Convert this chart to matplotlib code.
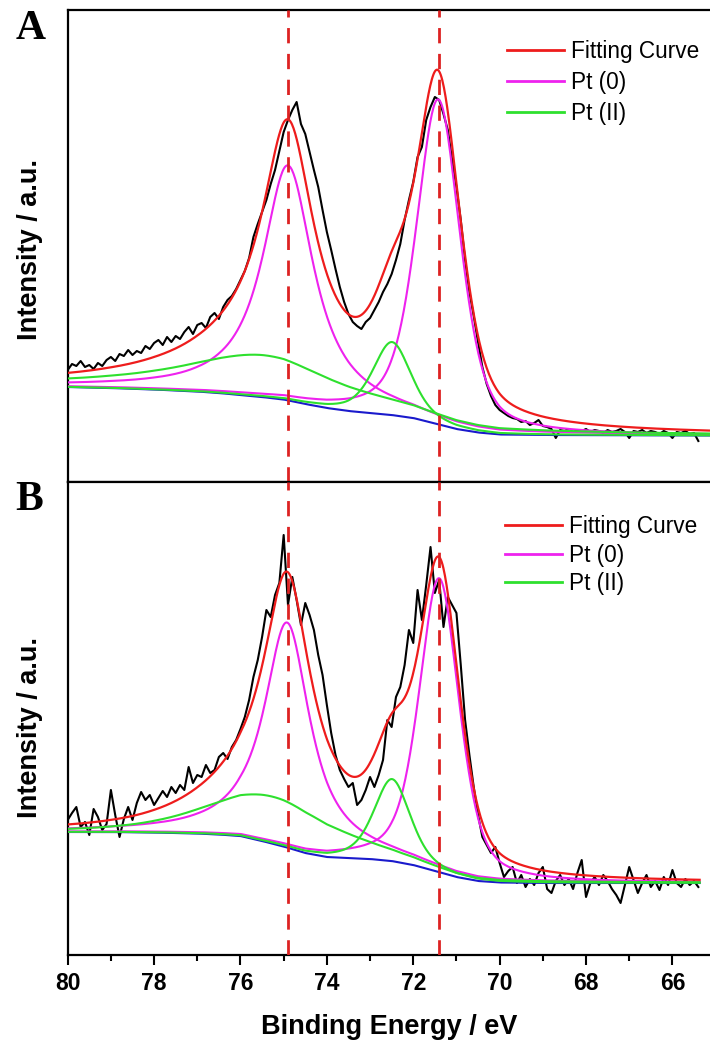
import numpy as np
import matplotlib
matplotlib.use("Agg")
import matplotlib.pyplot as plt

# ---------------- data ----------------
# raw spectra (intensity, a.u.) sampled every 0.1 eV from 80.0 to 65.4 eV
raw_energy = np.linspace(80.0, 65.4, 147)
raw_A = [112, 118, 116, 121, 115, 117, 113, 119, 116, 122,
         125, 121, 128, 126, 132, 127, 131, 129, 136, 133,
         139, 142, 137, 145, 140, 146, 143, 150, 155, 148,
         157, 159, 154, 165, 169, 163, 175, 182, 186, 193,
         202, 211, 224, 245, 258, 270, 282, 298, 312, 331,
         350, 362, 372, 380, 358, 348, 330, 312, 295, 272,
         250, 232, 213, 195, 180, 168, 160, 156, 153, 160,
         164, 172, 180, 190, 198, 208, 222, 238, 262, 282,
         300, 325, 335, 362, 375, 385, 382, 368, 352, 322,
         295, 262, 222, 190, 166, 140, 115, 98, 86, 77,
         72, 69, 66, 64, 63, 60, 61, 57, 59, 62,
         56, 55, 53, 44, 52, 51, 53, 50, 52, 51,
         53, 50, 52, 51, 49, 52, 50, 51, 53, 50,
         44, 51, 50, 52, 49, 51, 50, 48, 51, 49,
         44, 50, 49, 51, 48, 49, 41]
raw_B = [135, 142, 148, 128, 133, 120, 146, 138, 125, 131,
         165, 140, 118, 136, 148, 135, 152, 163, 155, 160,
         150, 157, 164, 158, 168, 162, 170, 165, 188, 172,
         180, 178, 190, 182, 185, 198, 202, 196, 208, 215,
         226, 238, 255, 278, 295, 318, 345, 338, 360, 372,
         420, 350, 378, 355, 330, 352, 340, 325, 300, 280,
         250, 222, 200, 185, 176, 168, 172, 150, 155, 165,
         178, 168, 180, 195, 235, 228, 258, 268, 290, 325,
         312, 365, 335, 370, 408, 362, 375, 328, 358, 350,
         342, 290, 235, 200, 168, 140, 118, 110, 102, 108,
         92, 78, 84, 88, 72, 80, 68, 76, 70, 82,
         88, 66, 62, 74, 80, 70, 76, 66, 82, 95,
         58, 72, 78, 70, 80, 74, 66, 60, 52, 70,
         88, 75, 62, 72, 80, 68, 74, 65, 78, 70,
         85, 72, 68, 76, 70, 74, 68]

# Shirley-type background anchor values
bg_energy = [80, 79, 78, 77, 76.5, 76, 75.5, 75, 74.5, 74, 73.5, 73,
             72.5, 72, 71.5, 71, 70.5, 70, 69, 65.1]
bg_A = [95, 94, 92.5, 90.5, 89, 87, 85, 82.5, 78, 74, 71, 69,
        67, 64, 58.5, 53, 49.5, 47.5, 47, 46.5]
bg_B = [123, 123, 122.5, 121.5, 120.5, 119, 114, 108.5, 102, 98, 97, 96,
        94, 90, 84, 78, 74, 72.5, 72, 72]

# fitted peak parameters: Pt(0) 4f5/2, Pt(0) 4f7/2, Pt(II) 4f5/2, Pt(II) 4f7/2
peak_species = ["Pt0", "Pt0", "PtII", "PtII"]
A_center = [74.90, 71.42, 75.45, 72.49]
A_height = [235, 325, 42, 73]
A_fwhm = [1.44, 1.20, 4.6, 1.05]
A_eta = [1.0, 0.5, 1.0, 0.5]
B_center = [74.92, 71.40, 75.25, 72.49]
B_height = [225, 294, 47, 82]
B_fwhm = [1.30, 1.10, 3.6, 1.00]
B_eta = [1.0, 0.5, 0.5, 0.5]

ref_lines = [74.9, 71.4]
xticks = [80, 78, 76, 74, 72, 70, 68, 66]
legend_labels = ["Fitting Curve", "Pt (0)", "Pt (II)"]

# ---------------- style ----------------
C_RED = "#ee1c1c"
C_MAG = "#ee22ee"
C_GRN = "#2ee02e"
C_BLU = "#1a1acc"
C_DASH = "#dd2222"
SANS = "Liberation Sans"
SERIF = "Liberation Serif"

W, H = 710, 1046
fig = plt.figure(figsize=(W / 100, H / 100), dpi=100)


def fx(px):
    return px / W


def fy(py):
    return 1 - py / H


axA = fig.add_axes([fx(67.7), fy(482), 1 - fx(67.7), (482 - 10) / H])
axB = fig.add_axes([fx(67.7), fy(955), 1 - fx(67.7), (955 - 482) / H])


def pv(x, c, h, f, eta):
    d2 = 4 * (x - c) ** 2 / f ** 2
    return h * (eta / (1 + d2) + (1 - eta) * np.exp(-np.log(2) * d2))


def draw(ax, raw, bgv, cen, hei, fw, et, xend, leg_anchor, lspace):
    x = np.linspace(80.0, xend, 800)
    bg = np.interp(x, bg_energy[::-1], bgv[::-1])
    ax.plot(raw_energy, raw, color="black", lw=1.5, zorder=2)
    ax.plot(x, bg, color=C_BLU, lw=1.5, zorder=3)
    total = bg.copy()
    handles = {}
    for c, h, f, e, s in zip(cen, hei, fw, et, peak_species):
        p = pv(x, c, h, f, e)
        total += p
        col = C_MAG if s == "Pt0" else C_GRN
        ln, = ax.plot(x, bg + p, color=col, lw=1.5, zorder=4 if s == "Pt0" else 5)
        handles[s] = ln
    lr, = ax.plot(x, total, color=C_RED, lw=1.6, zorder=6)
    for r in ref_lines:
        ax.axvline(r, color=C_DASH, lw=2.0, ls=(0, (5.5, 3.8)), zorder=7)
    ax.set_xlim(80, 65.13)
    ax.set_yticks([])
    ax.spines["right"].set_visible(False)
    for sp in ax.spines.values():
        sp.set_linewidth(1.6)
    leg = ax.legend([lr, handles["Pt0"], handles["PtII"]], legend_labels,
                    loc="upper left", bbox_to_anchor=leg_anchor, frameon=False,
                    prop={"family": SANS, "size": 16.3}, handlelength=2.5,
                    handletextpad=0.32, labelspacing=lspace, borderpad=0,
                    borderaxespad=0)
    for l in leg.get_lines():
        l.set_linewidth(2.0)


draw(axA, raw_A, bg_A, A_center, A_height, A_fwhm, A_eta, 65.13,
     ((507 - 67.7) / 642.3, (482 - 40) / 472), 0.36)
axA.set_ylim(0, 472)
axA.set_xticks([])

draw(axB, raw_B, bg_B, B_center, B_height, B_fwhm, B_eta, 65.37,
     ((505 - 67.7) / 642.3, (955 - 515) / 473), 0.25)
axB.set_ylim(0, 473)
axB.set_xticks(xticks)
axB.set_xticks(np.arange(79, 65, -2), minor=True)
axB.tick_params(axis="x", which="major", direction="out", length=7, width=1.5, pad=5)
axB.tick_params(axis="x", which="minor", direction="out", length=4.5, width=1.5)
for t in axB.get_xticklabels():
    t.set_fontfamily(SANS)
    t.set_fontweight("bold")
    t.set_fontsize(16.5)

fig.text(fx(389), fy(1027), "Binding Energy / eV", ha="center", va="center",
         family=SANS, fontweight="bold", fontsize=19.5)
fig.text(fx(30), fy(250), "Intensity / a.u.", ha="center", va="center",
         rotation=90, family=SANS, fontweight="bold", fontsize=19.5)
fig.text(fx(30), fy(727), "Intensity / a.u.", ha="center", va="center",
         rotation=90, family=SANS, fontweight="bold", fontsize=19.5)
fig.text(fx(31), fy(29), "A", ha="center", va="center", family=SERIF,
         fontweight="bold", fontsize=30)
fig.text(fx(29), fy(500), "B", ha="center", va="center", family=SERIF,
         fontweight="bold", fontsize=30)

fig.savefig("out.png", dpi=100)
